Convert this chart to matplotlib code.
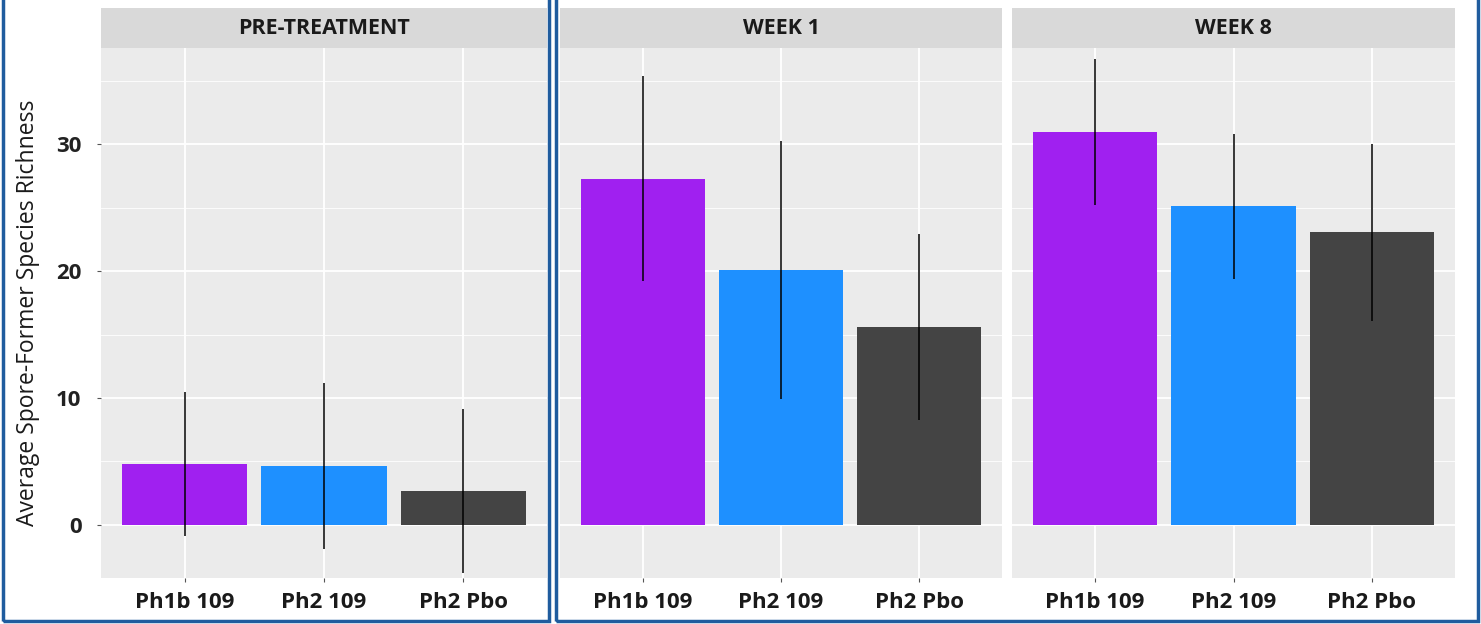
import matplotlib.pyplot as plt
from matplotlib.patches import Rectangle
import numpy as np

# data
panels = ["PRE-TREATMENT", "WEEK 1", "WEEK 8"]
groups = ["Ph1b 109", "Ph2 109", "Ph2 Pbo"]
means = [[4.8, 4.65, 2.68],
         [27.3, 20.1, 15.6],
         [31.0, 25.1, 23.05]]
sds = [[5.7, 6.55, 6.45],
       [8.1, 10.2, 7.35],
       [5.75, 5.75, 7.0]]
colors = ["#A020F0", "#1E90FF", "#444444"]

plt.rcParams['font.family'] = ['Open Sans', 'DejaVu Sans']

W, H = 1481, 624
fig = plt.figure(figsize=(W / 100, H / 100), dpi=100)

# panel pixel boxes (left, width)
lefts = [101, 560, 1012]
widths = [446, 442, 443]
top, bottom = 48, 578
strip_top = 8

for i in range(3):
    ax = fig.add_axes([lefts[i] / W, 1 - bottom / H, widths[i] / W, (bottom - top) / H])
    ax.set_facecolor("#EBEBEB")
    x = np.arange(1, 4)
    ax.bar(x, means[i], width=0.9, color=colors, zorder=2)
    ax.vlines(x, np.array(means[i]) - np.array(sds[i]), np.array(means[i]) + np.array(sds[i]),
              color="black", lw=1.1, zorder=3)
    ax.set_xlim(0.4, 3.6)
    ax.set_ylim(-4.2, 37.6)
    ax.set_yticks([0, 10, 20, 30])
    ax.set_yticks([5, 15, 25, 35], minor=True)
    ax.set_xticks(x)
    ax.set_xticklabels(groups, fontsize=16, fontweight="bold", color="#1A1A1A")
    ax.grid(True, which="major", color="white", lw=1.3, zorder=0)
    ax.grid(True, which="minor", axis="y", color="white", lw=0.6, zorder=0)
    ax.set_axisbelow(True)
    for s in ax.spines.values():
        s.set_visible(False)
    ax.tick_params(axis="both", which="major", length=3, color="#555555")
    ax.tick_params(axis="y", which="minor", length=0)
    ax.tick_params(axis="x", pad=7)
    if i == 0:
        ax.tick_params(axis="y", pad=11)
        ax.set_yticklabels(["0", "10", "20", "30"], fontsize=16, fontweight="bold", color="#222222")
        ax.set_ylabel("Average Spore-Former Species Richness", fontsize=16.5, color="#1A1A1A", labelpad=12)
    else:
        ax.tick_params(axis="y", length=0, labelleft=False)

    # strip
    sax = fig.add_axes([lefts[i] / W, 1 - top / H, widths[i] / W, (top - strip_top) / H])
    sax.set_facecolor("#D9D9D9")
    sax.set_xticks([])
    sax.set_yticks([])
    for s in sax.spines.values():
        s.set_visible(False)
    sax.text(0.5, 0.5, panels[i], ha="center", va="center", fontsize=15.5,
             fontweight="bold", color="#1A1A1A", transform=sax.transAxes)

# blue frames from the slide
def frame(x0, x1, y1):
    fig.patches.append(Rectangle((x0 / W, 1 - y1 / H), (x1 - x0) / W, y1 / H + 0.05,
                                 transform=fig.transFigure, fill=False,
                                 edgecolor="#1F5C9E", lw=2.5, clip_on=False))

frame(3, 549, 621)
frame(556, 1478, 621)

fig.savefig("out.png", dpi=100)
